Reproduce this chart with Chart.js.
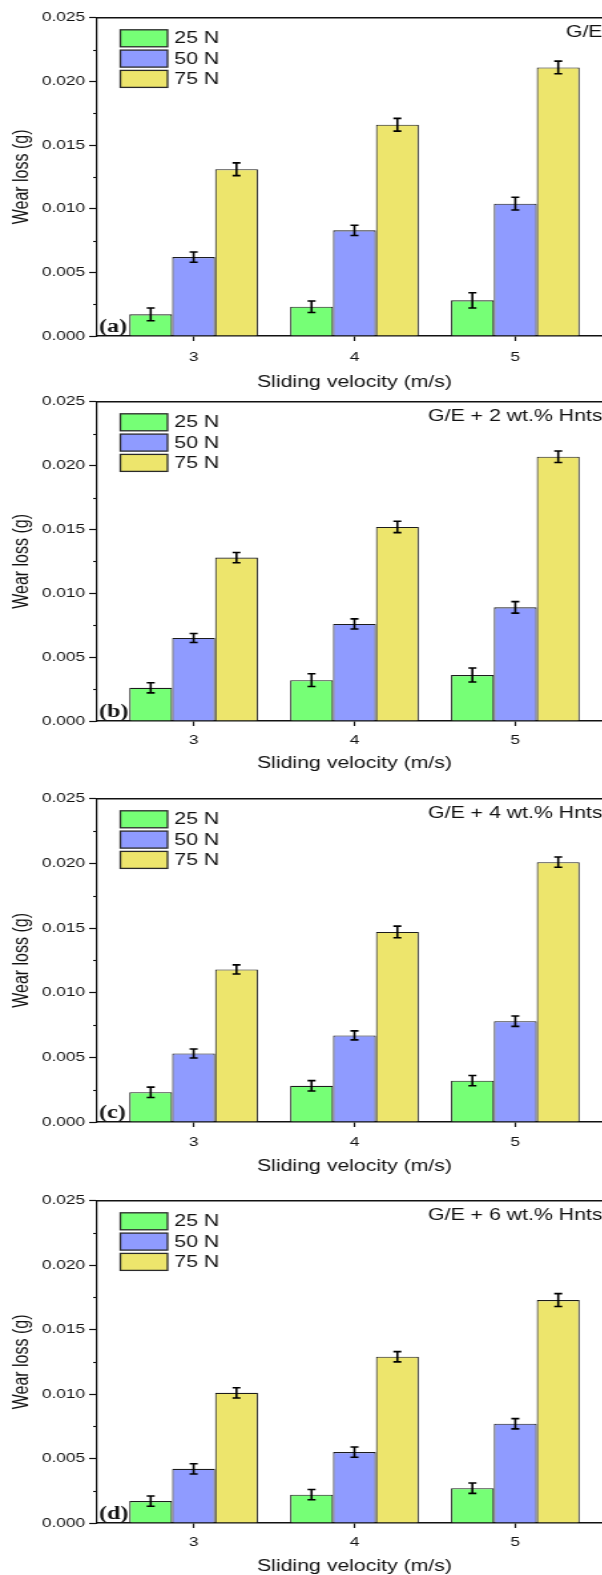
<!DOCTYPE html>
<html>
<head>
<meta charset="utf-8">
<script src="https://cdn.jsdelivr.net/npm/chart.js@4.4.1/dist/chart.umd.min.js"></script>
<style>
html, body { margin: 0; padding: 0; background: #ffffff; overflow: hidden; width: 602px; height: 1575px; }
.panel { position: absolute; left: 0; transform: scaleX(1.33); transform-origin: 0 0; }
.panel canvas { display: block; }
</style>
</head>
<body>
<div class="panel" id="w0"><canvas id="c0"></canvas></div>
<div class="panel" id="w1"><canvas id="c1"></canvas></div>
<div class="panel" id="w2"><canvas id="c2"></canvas></div>
<div class="panel" id="w3"><canvas id="c3"></canvas></div>
<script>
// ---------------- data ----------------
const velocities = [3, 4, 5];
const loadLabels = ['25 N', '50 N', '75 N'];
const yTickValues = [0, 0.005, 0.010, 0.015, 0.020, 0.025];
const yMinorValues = [0.0025, 0.0075, 0.0125, 0.0175, 0.0225];
const panelTags = ['(a)', '(b)', '(c)', '(d)'];
const panelNotes = ['G/E', 'G/E + 2 wt.% Hnts', 'G/E + 4 wt.% Hnts', 'G/E + 6 wt.% Hnts'];
const xTitle = 'Sliding velocity (m/s)';
const yTitle = 'Wear loss (g)';

// (a) G/E
const wearA25 = [0.0017, 0.0023, 0.0028];
const wearA50 = [0.0062, 0.0083, 0.0104];
const wearA75 = [0.0131, 0.0166, 0.0211];
const errA25 = [0.0005, 0.00045, 0.0006];
const errA50 = [0.0004, 0.0004, 0.0005];
const errA75 = [0.0005, 0.0005, 0.0005];
// (b) G/E + 2 wt.% Hnts
const wearB25 = [0.0026, 0.0032, 0.0036];
const wearB50 = [0.0065, 0.0076, 0.0089];
const wearB75 = [0.0128, 0.0152, 0.0207];
const errB25 = [0.0004, 0.0005, 0.00055];
const errB50 = [0.00035, 0.0004, 0.00045];
const errB75 = [0.0004, 0.00045, 0.00045];
// (c) G/E + 4 wt.% Hnts
const wearC25 = [0.0023, 0.0028, 0.0032];
const wearC50 = [0.0053, 0.0067, 0.0078];
const wearC75 = [0.0118, 0.0147, 0.0201];
const errC25 = [0.0004, 0.0004, 0.0004];
const errC50 = [0.00035, 0.00035, 0.0004];
const errC75 = [0.00035, 0.00045, 0.0004];
// (d) G/E + 6 wt.% Hnts
const wearD25 = [0.0017, 0.0022, 0.0027];
const wearD50 = [0.0042, 0.0055, 0.0077];
const wearD75 = [0.0101, 0.0129, 0.0173];
const errD25 = [0.0004, 0.0004, 0.0004];
const errD50 = [0.0004, 0.0004, 0.0004];
const errD75 = [0.0004, 0.0004, 0.0005];

const panelSeries = [
  [wearA25, wearA50, wearA75],
  [wearB25, wearB50, wearB75],
  [wearC25, wearC50, wearC75],
  [wearD25, wearD50, wearD75]
];
const panelErrors = [
  [errA25, errA50, errA75],
  [errB25, errB50, errB75],
  [errC25, errC50, errC75],
  [errD25, errD50, errD75]
];

// ---------------- layout & style ----------------
const canvasTops = [7, 391, 788, 1190];
const plotHeights = [319, 320, 324, 323];
const xAxisHeights = [59, 55, 57, 56];
const tickPads = [9, 7, 8, 7];
const CANVAS_W = 466;
const PAD_TOP = 10;
const FONT = '"Liberation Sans", Arial, sans-serif';
const barColors = ['#76FF76', '#8F9BFF', '#EDE56C'];
const INK = '#111111';

const framePlugin = {
  id: 'frame',
  afterDraw(chart) {
    const {ctx, chartArea} = chart;
    const ys = chart.scales.y;
    ctx.save();
    ctx.strokeStyle = INK;
    ctx.lineWidth = 1.4;
    ctx.beginPath();
    ctx.moveTo(chartArea.left, chartArea.top);
    ctx.lineTo(chartArea.right, chartArea.top);
    ctx.lineTo(chartArea.right, chartArea.bottom);
    ctx.stroke();
    ctx.lineWidth = 1.1;
    yMinorValues.forEach(v => {
      const py = Math.round(ys.getPixelForValue(v)) + 0.5;
      ctx.beginPath();
      ctx.moveTo(chartArea.left - 3, py);
      ctx.lineTo(chartArea.left, py);
      ctx.stroke();
    });
    ctx.restore();
  }
};

const errorBarPlugin = {
  id: 'errorBars',
  afterDatasetsDraw(chart) {
    const {ctx} = chart;
    const ys = chart.scales.y;
    ctx.save();
    ctx.strokeStyle = '#000000';
    ctx.lineWidth = 1.6;
    chart.data.datasets.forEach((ds, i) => {
      const meta = chart.getDatasetMeta(i);
      meta.data.forEach((bar, j) => {
        const v = ds.data[j].y;
        const e = ds.errors[j];
        const yt = ys.getPixelForValue(v + e);
        const yb = ys.getPixelForValue(v - e);
        const x = bar.x;
        const cap = 3;
        ctx.beginPath();
        ctx.moveTo(x, yt); ctx.lineTo(x, yb);
        ctx.moveTo(x - cap, yt); ctx.lineTo(x + cap, yt);
        ctx.moveTo(x - cap, yb); ctx.lineTo(x + cap, yb);
        ctx.stroke();
      });
    });
    ctx.restore();
  }
};

const legendBoxPlugin = {
  id: 'insideLegend',
  afterDraw(chart) {
    const {ctx, chartArea} = chart;
    const x0 = chartArea.left + 17.5;
    const y0 = chartArea.top + 12;
    const bw = 35.5, bh = 17, pitch = 20.3;
    ctx.save();
    ctx.font = '16px ' + FONT;
    ctx.textBaseline = 'middle';
    ctx.textAlign = 'left';
    chart.data.datasets.forEach((ds, i) => {
      const y = y0 + i * pitch;
      ctx.fillStyle = ds.backgroundColor;
      ctx.fillRect(x0, y, bw, bh);
      ctx.strokeStyle = '#2a2a2a';
      ctx.lineWidth = 1.3;
      ctx.strokeRect(x0, y, bw, bh);
      ctx.fillStyle = INK;
      ctx.fillText(ds.label, x0 + bw + 5, y + bh / 2 + 0.5);
    });
    ctx.restore();
  }
};

const notesPlugin = {
  id: 'notes',
  afterDraw(chart) {
    const {ctx, chartArea} = chart;
    const idx = chart.options.panelIndex;
    ctx.save();
    ctx.fillStyle = INK;
    ctx.font = '16px ' + FONT;
    ctx.textAlign = 'right';
    ctx.textBaseline = 'alphabetic';
    ctx.fillText(panelNotes[idx], chartArea.right - 7, chartArea.top + 19);
    ctx.font = 'bold 18px "Liberation Serif", "Times New Roman", serif';
    ctx.textAlign = 'left';
    ctx.fillText(panelTags[idx], chartArea.left + 1.5, chartArea.bottom - 4.5);
    ctx.restore();
  }
};

function makePanel(idx) {
  const wrap = document.getElementById('w' + idx);
  wrap.style.top = canvasTops[idx] + 'px';
  const canvas = document.getElementById('c' + idx);
  canvas.width = CANVAS_W;
  canvas.height = PAD_TOP + plotHeights[idx] + xAxisHeights[idx];
  const series = panelSeries[idx];
  const errs = panelErrors[idx];
  const datasets = loadLabels.map((name, k) => ({
    label: name,
    data: velocities.map((v, i) => ({x: v, y: series[k][i]})),
    errors: errs[k],
    backgroundColor: barColors[k],
    borderColor: '#1c1c1c',
    borderWidth: 1.1,
    borderSkipped: 'start'
  }));
  return new Chart(canvas, {
    type: 'bar',
    data: {datasets},
    options: {
      panelIndex: idx,
      responsive: false,
      animation: false,
      devicePixelRatio: 1,
      events: [],
      layout: {padding: {top: PAD_TOP, right: 6, left: 0, bottom: 0}},
      plugins: {legend: {display: false}, tooltip: {enabled: false}},
      datasets: {bar: {categoryPercentage: 0.8, barPercentage: 1.0}},
      scales: {
        x: {
          type: 'linear',
          min: 2.4, max: 5.6,
          offset: false,
          afterBuildTicks: s => { s.ticks = velocities.map(v => ({value: v})); },
          afterFit: s => { s.height = xAxisHeights[idx]; },
          ticks: {
            callback: v => String(v),
            font: {family: FONT, size: 13},
            color: INK,
            padding: tickPads[idx],
            maxRotation: 0,
            autoSkip: false
          },
          grid: {display: true, offset: false, drawOnChartArea: false, drawTicks: true, tickLength: 5, color: INK, tickWidth: 1.2},
          border: {display: true, color: INK, width: 1.5},
          title: {display: true, text: xTitle, font: {family: FONT, size: 16}, color: INK, padding: {top: 0, bottom: 2.4}}
        },
        y: {
          min: 0, max: 0.025,
          afterBuildTicks: s => { s.ticks = yTickValues.map(v => ({value: v})); },
          afterFit: s => { s.width = 73; },
          ticks: {
            callback: v => Number(v).toFixed(3),
            font: {family: FONT, size: 13},
            color: INK,
            padding: 3
          },
          grid: {display: true, drawOnChartArea: false, drawTicks: true, tickLength: 6, color: INK, tickWidth: 1.2},
          border: {display: true, color: INK, width: 1.2},
          title: {display: true, text: yTitle, font: {family: FONT, size: 16}, color: INK, padding: {top: 7, bottom: 0}}
        }
      }
    },
    plugins: [errorBarPlugin, framePlugin, legendBoxPlugin, notesPlugin]
  });
}

[0, 1, 2, 3].forEach(makePanel);
</script>
</body>
</html>
